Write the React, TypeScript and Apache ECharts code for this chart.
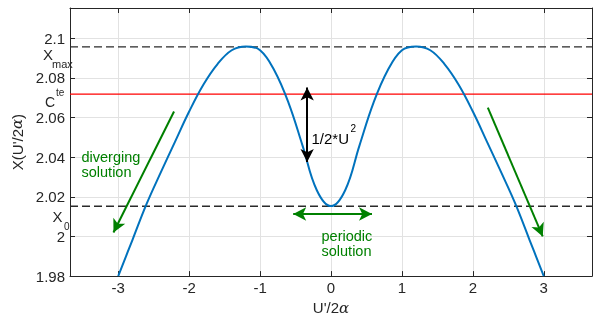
import React, { useEffect, useRef } from "react";
import * as echarts from "echarts";

// Curve X(U'/2α) at even steps of U'/2α (right half; the curve is symmetric)
const uHalf = [0, 0.2, 0.4, 0.6, 0.8, 1.0, 1.2, 1.4, 1.6, 1.8, 2.0, 2.2, 2.4, 2.6, 2.8, 3.0];
const xHalf = [2.0153, 2.0233, 2.0457, 2.0675, 2.0838, 2.0939, 2.0958, 2.0939, 2.0869, 2.0765, 2.063, 2.0477, 2.0323, 2.0164, 1.9982, 1.98];

// Reference levels
const X_MAX = 2.0956;
const C_TE = 2.0718;
const X_0 = 2.0152;

// Axis ranges
const X_RANGE = [-3.68, 3.68];
const Y_RANGE = [1.98, 2.1152];
const Y_STEP = 0.02;

// Annotation arrows [start, end] in data coordinates
const divergingLeft = [[-2.213, 2.063], [-3.067, 2.002]];
const divergingRight = [[2.211, 2.065], [2.985, 2.0]];
const periodicArrow = [[-0.533, 2.0113], [0.578, 2.0113]];
const halfU2Arrow = [[-0.336, 2.0751], [-0.336, 2.0376]];

const FONT = "'Liberation Sans', Arial, Helvetica, sans-serif";
const GREEN = "#008000";
const AXIS = "#262626";

export default function App() {
  const ref = useRef<HTMLDivElement>(null);

  useEffect(() => {
    if (!ref.current) return;
    const chart = echarts.init(ref.current, undefined, { renderer: "svg" });

    const curve: number[][] = [];
    for (let i = uHalf.length - 1; i > 0; i--) curve.push([-uHalf[i], xHalf[i]]);
    for (let i = 0; i < uHalf.length; i++) curve.push([uHalf[i], xHalf[i]]);

    const arrow = (pts: number[][], color: string, both = false) => [
      { coord: pts[0], symbol: both ? "arrow" : "none", lineStyle: { color, width: 2, type: "solid" } },
      { coord: pts[1], symbol: "arrow", lineStyle: { color, width: 2, type: "solid" } },
    ];

    const level = (v: number, color: string, width: number, type: any, z: number) => ({
      type: "line",
      data: [
        [X_RANGE[0], v],
        [X_RANGE[1], v],
      ],
      showSymbol: false,
      symbol: "none",
      silent: true,
      z,
      lineStyle: { color, width, type },
    });

    const xLabel = (v: number) => (Math.abs(v - Math.round(v)) < 1e-6 ? String(Math.round(v)) : "");
    const yLabel = (v: number) =>
      Math.abs(v / Y_STEP - Math.round(v / Y_STEP)) < 1e-6 ? String(parseFloat(v.toFixed(2))) : "";

    const frameAxis = {
      axisLine: { show: true, onZero: false, lineStyle: { color: AXIS, width: 1 } },
      axisTick: { show: true, inside: true, length: 5, lineStyle: { color: AXIS, width: 1 } },
    };

    const txt = (x: number, y: number, text: string, size: number, fill: string) => ({
      type: "text",
      x,
      y,
      silent: true,
      z: 10,
      style: {
        text,
        fill,
        fontSize: size,
        fontFamily: FONT,
        align: "left",
        verticalAlign: "middle",
        lineHeight: size,
      },
    });

    chart.setOption({
      animation: false,
      grid: { left: 70, right: 2, top: 8, bottom: 36 },
      xAxis: [
        {
          type: "value",
          position: "bottom",
          min: X_RANGE[0],
          max: X_RANGE[1],
          minInterval: 1,
          maxInterval: 1,
          ...frameAxis,
          axisLabel: { formatter: xLabel, color: AXIS, fontSize: 15, fontFamily: FONT, margin: 4 },
          splitLine: { show: true, lineStyle: { color: "#e2e2e2", width: 1 } },
          name: "U'/2{i|α}",
          nameLocation: "middle",
          nameGap: 18,
          nameTextStyle: {
            color: AXIS,
            fontSize: 15,
            fontFamily: FONT,
            verticalAlign: "top",
            rich: { i: { fontStyle: "italic", fontSize: 15, fontFamily: "'DejaVu Serif', serif", color: AXIS } },
          },
        },
        {
          type: "value",
          position: "top",
          min: X_RANGE[0],
          max: X_RANGE[1],
          minInterval: 1,
          maxInterval: 1,
          ...frameAxis,
          axisLabel: { show: false },
          splitLine: { show: false },
        },
      ],
      yAxis: [
        {
          type: "value",
          position: "left",
          min: Y_RANGE[0],
          max: Y_RANGE[1],
          interval: Y_STEP,
          ...frameAxis,
          axisLabel: { formatter: yLabel, color: AXIS, fontSize: 15, fontFamily: FONT, margin: 5 },
          splitLine: { show: true, lineStyle: { color: "#e2e2e2", width: 1 } },
          name: "X(U'/2{i|α})",
          nameLocation: "middle",
          nameGap: 40,
          nameTextStyle: {
            color: AXIS,
            fontSize: 15,
            fontFamily: FONT,
            rich: { i: { fontStyle: "italic", fontSize: 15, fontFamily: "'DejaVu Serif', serif", color: AXIS } },
          },
        },
        {
          type: "value",
          position: "right",
          min: Y_RANGE[0],
          max: Y_RANGE[1],
          interval: Y_STEP,
          ...frameAxis,
          axisLabel: { show: false },
          splitLine: { show: false },
        },
      ],
      series: [
        level(X_MAX, "#2a2a2a", 1.4, [8, 4], 2),
        level(C_TE, "#ff0000", 1.2, "solid", 2),
        level(X_0, "#2a2a2a", 1.4, [8, 4], 2),
        {
          type: "line",
          data: curve,
          smooth: 0.4,
          showSymbol: false,
          symbol: "none",
          lineStyle: { color: "#0072BD", width: 2 },
          silent: true,
          z: 3,
          markLine: {
            silent: true,
            precision: 5,
            symbol: ["none", "none"],
            symbolSize: [10, 13],
            label: { show: false },
            emphasis: { disabled: true },
            data: [
              arrow(divergingLeft, GREEN),
              arrow(divergingRight, GREEN),
              arrow(periodicArrow, GREEN, true),
              arrow(halfU2Arrow, "#000000", true),
            ],
          },
        },
      ],
      graphic: [
        txt(43, 54, "X", 15, AXIS),
        txt(52, 64, "max", 11, AXIS),
        txt(45, 102, "C", 14, AXIS),
        txt(56, 92.5, "te", 10, AXIS),
        txt(52.5, 216, "X", 15, AXIS),
        txt(64, 226, "0", 10, AXIS),
        txt(81.5, 157, "diverging", 14.5, GREEN),
        txt(81.5, 172, "solution", 14.5, GREEN),
        txt(321.5, 236, "periodic", 14.5, GREEN),
        txt(321.5, 251, "solution", 14.5, GREEN),
        txt(311.5, 138, "1/2*U", 15, "#000000"),
        txt(350.5, 128, "2", 10, "#000000"),
      ],
    });

    return () => chart.dispose();
  }, []);

  return <div ref={ref} style={{ position: "fixed", left: 0, top: 0, width: 595, height: 320 }} />;
}
